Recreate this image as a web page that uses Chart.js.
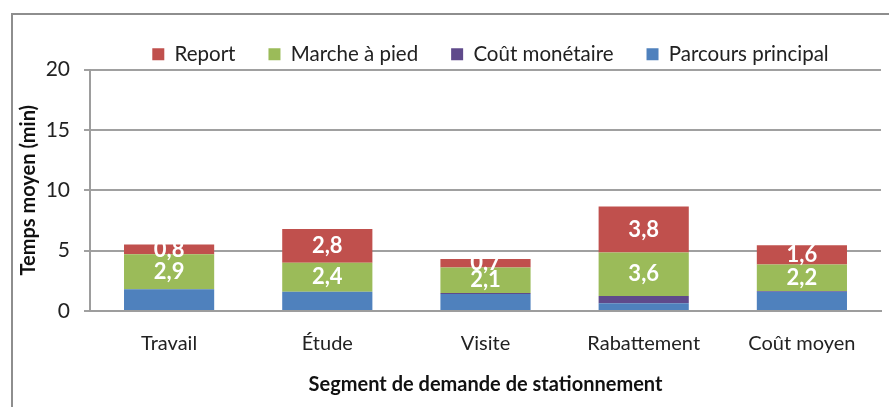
<!DOCTYPE html>
<html>
<head>
<meta charset="utf-8">
<script src="https://cdn.jsdelivr.net/npm/chart.js@4/dist/chart.umd.min.js"></script>
<style>
    body { margin: 0; background: #fff; overflow: hidden; }
    #wrap { position: relative; width: 889px; height: 407px; overflow: hidden; }
    #frame { position: absolute; left: 11px; top: 13px; width: 1000px; height: 1000px; border: 2px solid #8e8e8e; }
    #chart { position: absolute; left: 0; top: 0; }
</style>
</head>
<body>
<div id="wrap">
    <div id="frame"></div>
    <canvas id="chart" width="889" height="407"></canvas>
</div>
<script>
const FONT = 'Lato, "Open Sans", sans-serif';

const segments = ['Travail', 'Étude', 'Visite', 'Rabattement', 'Coût moyen'];
const parcoursPrincipal = [1.8, 1.6, 1.4, 0.65, 1.6];
const coutMonetaire = [0, 0, 0.1, 0.6, 0.05];
const marcheAPied = [2.9, 2.4, 2.1, 3.6, 2.2];
const report = [0.8, 2.8, 0.7, 3.8, 1.6];
const yTicks = [0, 5, 10, 15, 20];

const formatValue = v => v.toFixed(1).replace('.', ',');

// white value labels centred in the walking and report segments
const segmentLabels = {
    id: 'segmentLabels',
    afterDatasetsDraw(chart) {
        const ctx = chart.ctx;
        ctx.save();
        ctx.fillStyle = '#ffffff';
        ctx.font = 'bold 22px ' + FONT;
        ctx.textAlign = 'center';
        ctx.textBaseline = 'middle';
        chart.data.datasets.forEach((ds, i) => {
            if (!ds.showValues) return;
            chart.getDatasetMeta(i).data.forEach((bar, j) => {
                ctx.fillText(formatValue(ds.data[j]), bar.x, (bar.y + bar.base) / 2);
            });
        });
        ctx.restore();
    }
};

// legend sits over the plot area rather than the whole canvas
const legendShift = {
    id: 'legendShift',
    afterLayout(chart) {
        const lg = chart.legend;
        lg.left += 50; lg.right += 50;
        lg.top += 5; lg.bottom += 5;
    }
};

new Chart(document.getElementById('chart'), {
    type: 'bar',
    data: {
        labels: segments,
        datasets: [
            { label: 'Parcours principal', data: parcoursPrincipal, backgroundColor: '#4f81bd' },
            { label: 'Coût monétaire', data: coutMonetaire, backgroundColor: '#5f4a8b' },
            { label: 'Marche à pied', data: marcheAPied, backgroundColor: '#9bbb59', showValues: true },
            { label: 'Report', data: report, backgroundColor: '#c0504d', showValues: true }
        ]
    },
    options: {
        responsive: false,
        animation: false,
        layout: { padding: { left: 0, right: 8, top: 6, bottom: 0 } },
        datasets: { bar: { barPercentage: 0.57, categoryPercentage: 1 } },
        scales: {
            x: {
                stacked: true,
                grid: { display: false, drawTicks: false },
                border: { color: '#9d9d9d', width: 2 },
                ticks: { color: '#222', font: { family: FONT, size: 20 }, padding: 21 },
                title: {
                    display: true, text: 'Segment de demande de stationnement', color: '#111',
                    font: { family: FONT, size: 20, weight: 'bold' }, padding: { top: 0, bottom: 10 }
                },
                afterFit(scale) { scale.height = 96; }
            },
            y: {
                stacked: true,
                min: 0, max: 20,
                afterBuildTicks(scale) { scale.ticks = yTicks.map(v => ({ value: v })); },
                grid: { color: '#a0a0a0', lineWidth: 2, tickLength: 6 },
                border: { color: '#9d9d9d', width: 2 },
                ticks: { color: '#222', font: { family: FONT, size: 21 }, padding: 14 },
                title: {
                    display: true, text: 'Temps moyen (min)', color: '#111',
                    font: { family: FONT, size: 20, weight: 'bold' }, padding: { top: 17, bottom: 0 }
                },
                afterFit(scale) { scale.width = 90; }
            }
        },
        plugins: {
            legend: {
                reverse: true,
                labels: {
                    color: '#222', font: { family: FONT, size: 20.5 },
                    boxWidth: 12, boxHeight: 12, padding: 33
                }
            },
            tooltip: { enabled: false }
        }
    },
    plugins: [segmentLabels, legendShift]
});
</script>
</body>
</html>
